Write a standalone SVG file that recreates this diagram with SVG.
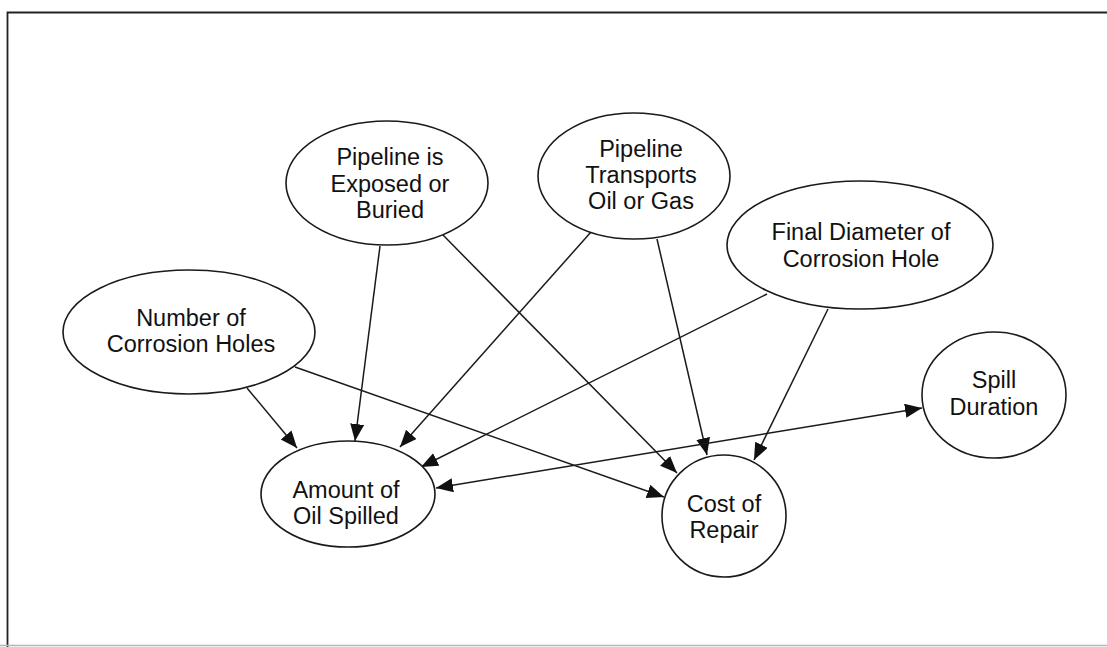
<svg xmlns="http://www.w3.org/2000/svg" width="1107" height="647" viewBox="0 0 1107 647">
  <style>
    .node ellipse { fill: #fff; stroke: #1a1a1a; stroke-width: 1.6; }
    .node text { font-family: "Liberation Sans", Arial, sans-serif; font-size: 23.5px; fill: #111; text-anchor: middle; }
    .edge { stroke: #1a1a1a; stroke-width: 1.5; fill: none; marker-end: url(#arrow); }
    .frame { stroke: #222; stroke-width: 1.8; fill: none; }
  </style>
  <defs>
    <marker id="arrow" markerUnits="userSpaceOnUse" markerWidth="19" markerHeight="16" refX="17" refY="7" orient="auto-start-reverse">
      <path d="M0,0 L17,7 L0,14 z" fill="#111"/>
    </marker>
  </defs>

  <rect width="1107" height="647" fill="#fff"/>

  <!-- outer frame: left and top rule, faint bottom rule -->
  <path class="frame" d="M7.5,647 V12.5 H1107"/>
  <line x1="0" y1="645.5" x2="1107" y2="645.5" stroke="#b5b5b5" stroke-width="1.5"/>

  <g id="connectors">
    <!-- into Amount of Oil Spilled -->
    <line class="edge" x1="380" y1="246" x2="355" y2="441"/>
    <line class="edge" x1="247" y1="388" x2="297" y2="448"/>
    <line class="edge" x1="591" y1="232" x2="400" y2="447"/>
    <line class="edge" x1="767" y1="294" x2="421" y2="467"/>
    <!-- into Cost of Repair -->
    <line class="edge" x1="443" y1="235" x2="677" y2="473"/>
    <line class="edge" x1="295" y1="367" x2="664" y2="497"/>
    <line class="edge" x1="657" y1="239" x2="707" y2="455"/>
    <line class="edge" x1="828" y1="309" x2="754" y2="460"/>
    <!-- Amount of Oil Spilled <-> Spill Duration -->
    <line class="edge" x1="436" y1="488" x2="922" y2="408" marker-start="url(#arrow)"/>
  </g>

  <g id="node-exposed" class="node">
    <ellipse cx="387" cy="183" rx="101" ry="62"/>
    <text x="390" y="165">Pipeline is</text>
    <text x="390" y="192">Exposed or</text>
    <text x="390" y="218">Buried</text>
  </g>

  <g id="node-transports" class="node">
    <ellipse cx="634" cy="176" rx="96" ry="63"/>
    <text x="641" y="157">Pipeline</text>
    <text x="641" y="183">Transports</text>
    <text x="641" y="209">Oil or Gas</text>
  </g>

  <g id="node-diameter" class="node">
    <ellipse cx="860" cy="245" rx="133" ry="64"/>
    <text x="861" y="240">Final Diameter of</text>
    <text x="861" y="267">Corrosion Hole</text>
  </g>

  <g id="node-holes" class="node">
    <ellipse cx="189" cy="332" rx="126" ry="62"/>
    <text x="191" y="326">Number of</text>
    <text x="191" y="352">Corrosion Holes</text>
  </g>

  <g id="node-amount" class="node">
    <ellipse cx="348" cy="494" rx="87" ry="53"/>
    <text x="346" y="498">Amount of</text>
    <text x="346" y="524">Oil Spilled</text>
  </g>

  <g id="node-cost" class="node">
    <ellipse cx="724" cy="516" rx="62" ry="61"/>
    <text x="724" y="512">Cost of</text>
    <text x="724" y="538">Repair</text>
  </g>

  <g id="node-duration" class="node">
    <ellipse cx="994" cy="395" rx="72" ry="63"/>
    <text x="994" y="388">Spill</text>
    <text x="994" y="415">Duration</text>
  </g>
</svg>
